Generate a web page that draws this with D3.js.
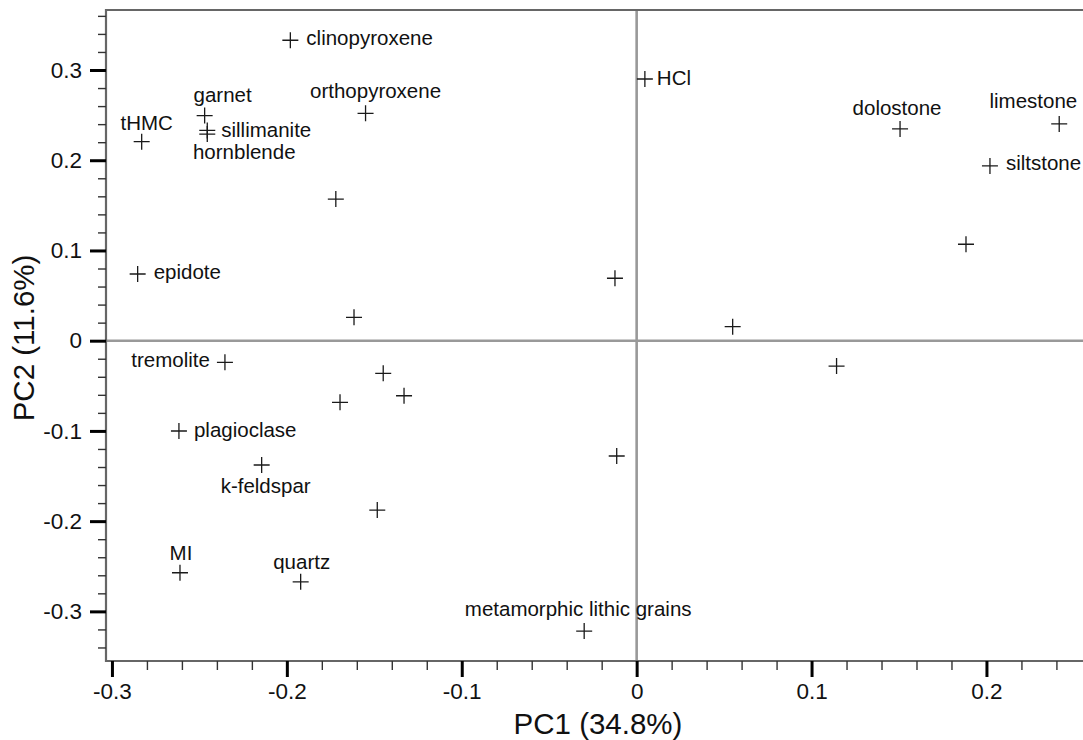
<!DOCTYPE html>
<html>
<head>
<meta charset="utf-8">
<script src="https://cdn.jsdelivr.net/npm/d3@7"></script>
<style>
  body { margin: 0; background: #fff; }
  svg { display: block; font-family: "Liberation Sans", Arial, Helvetica, sans-serif; }
</style>
</head>
<body>
<div id="wrapper"></div>
<script>
// PCA loadings
const labels = ["clinopyroxene", "orthopyroxene", "garnet", "sillimanite", "hornblende", "tHMC", "",
  "epidote", "", "HCl", "", "dolostone", "limestone", "siltstone", "", "", "",
  "tremolite", "", "", "", "plagioclase", "k-feldspar", "", "", "MI", "quartz", "metamorphic lithic grains"];
const pc1 = [-0.198, -0.155, -0.247, -0.2455, -0.2455, -0.283, -0.172,
  -0.2853, -0.1616, 0.0047, -0.0124, 0.1506, 0.2416, 0.2020, 0.1883, 0.0549, 0.1143,
  -0.2354, -0.1449, -0.1330, -0.1696, -0.2617, -0.2144, -0.1483, -0.0114, -0.2611, -0.1921, -0.0300];
const pc2 = [0.333, 0.252, 0.2495, 0.233, 0.229, 0.2206, 0.157,
  0.0739, 0.0259, 0.290, 0.0692, 0.2347, 0.2402, 0.1937, 0.1069, 0.0155, -0.0281,
  -0.0240, -0.0362, -0.0610, -0.0683, -0.1001, -0.1378, -0.1877, -0.1278, -0.2572, -0.2672, -0.3218];

const xTicks = [-0.3, -0.2, -0.1, 0, 0.1, 0.2];
const yTicks = [-0.3, -0.2, -0.1, 0, 0.1, 0.2, 0.3];
const xTitle = "PC1 (34.8%)";
const yTitle = "PC2 (11.6%)";

// where each tag sits relative to its cross: [text-anchor, dx, dy]
const tagPlace = {
  "clinopyroxene": ["start", 16, 5],
  "orthopyroxene": ["middle", 10, -15],
  "garnet": ["middle", 18, -14],
  "sillimanite": ["start", 14, 7],
  "hornblende": ["middle", 37, 25],
  "tHMC": ["middle", 5, -12],
  "epidote": ["start", 16, 5],
  "HCl": ["start", 12, 6],
  "dolostone": ["middle", -3, -14],
  "limestone": ["end", 18, -16],
  "siltstone": ["start", 16, 4],
  "tremolite": ["end", -15, 5],
  "plagioclase": ["start", 15, 6],
  "k-feldspar": ["middle", 4, 28],
  "MI": ["middle", 1, -13],
  "quartz": ["middle", 1, -13],
  "metamorphic lithic grains": ["middle", -6, -15]
};

const width = 1083, height = 740;
const data = labels.map((d, i) => ({ label: d, x: pc1[i], y: pc2[i] }));

const svg = d3.select("#wrapper").append("svg")
  .attr("width", width)
  .attr("height", height);

const xScale = d3.scaleLinear().domain([-0.3034, 0.2552]).range([106, 1083]);
const yScale = d3.scaleLinear().domain([-0.355, 0.3665]).range([661, 10]);

// zero lines
svg.append("line")
  .attr("x1", xScale(0)).attr("x2", xScale(0))
  .attr("y1", yScale.range()[1]).attr("y2", yScale.range()[0])
  .attr("stroke", "#999").attr("stroke-width", 2.6);
svg.append("line")
  .attr("x1", xScale.range()[0]).attr("x2", xScale.range()[1])
  .attr("y1", yScale(0)).attr("y2", yScale(0))
  .attr("stroke", "#999").attr("stroke-width", 2.6);

// frame (left, top, bottom)
svg.append("path")
  .attr("d", `M${xScale.range()[1]},${yScale.range()[1]}H${xScale.range()[0]}V${yScale.range()[0]}H${xScale.range()[1]}`)
  .attr("fill", "none")
  .attr("stroke", "#666")
  .attr("stroke-width", 2.2);

// minor ticks
const xMinor = d3.range(-0.3, 0.2401, 0.02).filter(v => !xTicks.some(t => Math.abs(t - v) < 1e-6));
const yMinor = d3.range(-0.34, 0.3601, 0.02).filter(v => !yTicks.some(t => Math.abs(t - v) < 1e-6));

const xMinorAxis = svg.append("g")
  .attr("transform", `translate(0,${yScale.range()[0]})`)
  .call(d3.axisBottom(xScale).tickValues(xMinor).tickSize(9).tickFormat(""));
const yMinorAxis = svg.append("g")
  .attr("transform", `translate(${xScale.range()[0]},0)`)
  .call(d3.axisLeft(yScale).tickValues(yMinor).tickSize(8).tickFormat(""));
[xMinorAxis, yMinorAxis].forEach(a => {
  a.select(".domain").remove();
  a.selectAll(".tick line").attr("stroke", "#333").attr("stroke-width", 1.4);
});

// major ticks with labels
const xAxis = svg.append("g")
  .attr("transform", `translate(0,${yScale.range()[0]})`)
  .call(d3.axisBottom(xScale).tickValues(xTicks).tickSize(16).tickPadding(6).tickFormat(d => String(d)));
const yAxis = svg.append("g")
  .attr("transform", `translate(${xScale.range()[0]},0)`)
  .call(d3.axisLeft(yScale).tickValues(yTicks).tickSize(16).tickPadding(8).tickFormat(d => String(d)));
[xAxis, yAxis].forEach(a => {
  a.select(".domain").remove();
  a.selectAll(".tick line").attr("stroke", "#000").attr("stroke-width", 3);
  a.selectAll(".tick text")
    .attr("fill", "#111")
    .style("font-family", "'Liberation Sans', Arial, sans-serif")
    .style("font-size", "22.5px");
});

// axis titles
svg.append("text")
  .attr("x", 598).attr("y", 734)
  .attr("text-anchor", "middle")
  .style("font-size", "29.5px")
  .attr("fill", "#111")
  .text(xTitle);
svg.append("text")
  .attr("transform", "translate(34,338) rotate(-90)")
  .attr("text-anchor", "middle")
  .style("font-size", "29.5px")
  .attr("fill", "#111")
  .text(yTitle);

// crosses
const pts = svg.append("g");
pts.selectAll("path")
  .data(data)
  .join("path")
  .attr("transform", d => `translate(${xScale(d.x)},${yScale(d.y)})`)
  .attr("d", "M-8,0H8M0,-8V8")
  .attr("stroke", "#1a1a1a")
  .attr("stroke-width", 1.3)
  .attr("fill", "none");

// tags
pts.selectAll("text")
  .data(data.filter(d => d.label !== ""))
  .join("text")
  .attr("x", d => xScale(d.x) + tagPlace[d.label][1])
  .attr("y", d => yScale(d.y) + tagPlace[d.label][2])
  .attr("text-anchor", d => tagPlace[d.label][0])
  .style("font-size", "20.5px")
  .attr("fill", "#111")
  .text(d => d.label);
</script>
</body>
</html>
